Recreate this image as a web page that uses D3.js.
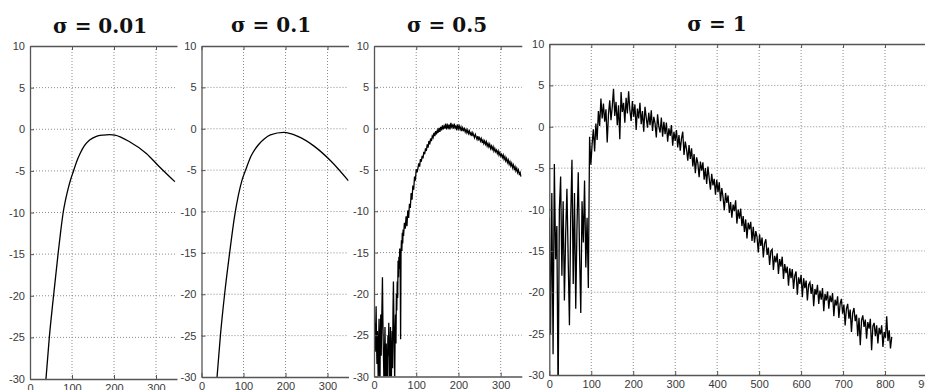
<!DOCTYPE html>
<html>
<head>
<meta charset="utf-8">
<script src="https://cdn.jsdelivr.net/npm/d3@7"></script>
<style>
  body { margin: 0; background: #fff; }
  svg { display: block; }
</style>
</head>
<body>
<svg id="chart" width="925" height="390"></svg>
<script>
// ---- data ----
var titles = ["σ = 0.01", "σ = 0.1", "σ = 0.5", "σ = 1"];
var yTicks = [10, 5, 0, -5, -10, -15, -20, -25, -30];
var xTicksShort = [0, 100, 200, 300];
var xTicksLong = [0, 100, 200, 300, 400, 500, 600, 700, 800, 900];

// sigma = 0.01 (smooth)
var s001X = [35, 38, 46, 55, 67, 73, 79, 85, 91, 97, 103, 111, 119, 130, 142, 158, 174, 190, 202, 237, 277, 308, 345];
var s001Y = [-32, -30, -25, -20.5, -14.9, -12.3, -10, -8.4, -7.1, -6, -5.1, -3.9, -2.95, -1.95, -1.3, -0.85, -0.7, -0.65, -0.7, -1.5, -2.9, -4.5, -6.3];

// sigma = 0.1 (smooth)
var s01X = [34, 37, 45, 55, 67, 79, 88, 96, 105, 118, 136, 150, 164, 196, 228, 268, 308, 350];
var s01Y = [-32, -30, -25, -20, -15, -10.5, -8, -6.3, -5, -3.3, -1.9, -1.2, -0.75, -0.45, -0.9, -2.1, -3.9, -6.3];

// sigma = 0.5: samples 0..69 one by one, then every 2nd sample from 70
var s05HeadY = [
  -22, -25, -23.5, -27, -24, -21.5, -26, -28.5, -24.5, -27, -30.5, -26, -23, -28, -31.5,
  -25.5, -22.5, -27.5, -24, -21, -18, -23, -26.5, -29, -33, -27, -24, -28.5, -31, -26,
  -29.5, -34, -28, -25, -27.5, -23.5, -30, -32.5, -26.5, -24, -28, -31, -27, -24.5, -29,
  -22, -18.5, -23, -27, -30.5, -25, -22.5, -26, -20, -22, -18.5, -20.5, -16, -18, -15.5,
  -17, -14.5, -16.5, -25.5, -15, -13.5, -14.8, -12.6, -13.9, -12.2
];
var s05TailStart = 70, s05TailStep = 2;
var s05TailY = [
  -13.0, -11.4, -12.1, -10.6, -11.8, -9.9, -10.8, -9.1, -9.6, -7.8, -8.6, -6.9, -7.4, -5.8,
  -6.3, -4.9, -5.3, -4.8, -4.2, -4.6, -3.7, -4.0, -3.3, -3.6, -2.8, -3.1, -2.4, -2.7, -1.9,
  -2.3, -1.5, -1.9, -1.2, -1.5, -0.9, -1.1, -0.5, -0.9, -0.3, -0.7, -0.2, -0.5, 0.1, -0.4,
  0.2, -0.2, 0.4, -0.1, 0.3, 0.0, 0.6, -0.1, 0.4, 0.1, 0.5, -0.1, 0.7, 0.2, 0.4, 0.0, 0.6,
  0.1, 0.3, -0.2, 0.5, 0.0, 0.3, -0.1, 0.2, -0.3, 0.1, -0.2, 0.0, -0.4, -0.1, -0.5, -0.2,
  -0.6, -0.3, -0.7, -0.5, -0.9, -0.5, -0.8, -1.1, -0.7, -1.0, -1.3, -0.9, -1.3, -1.1, -1.5,
  -1.2, -1.6, -1.4, -1.8, -1.5, -1.9, -1.6, -2.1, -1.8, -2.2, -1.9, -2.4, -2.1, -2.5, -2.2,
  -2.7, -2.4, -2.8, -2.6, -3.0, -2.7, -3.2, -2.9, -3.3, -3.1, -3.5, -3.2, -3.7, -3.4, -3.9,
  -3.6, -4.1, -3.8, -4.3, -4.0, -4.5, -4.2, -4.7, -4.4, -4.9, -4.6, -5.1, -4.8, -5.3, -5.0,
  -5.5, -5.3, -5.8
];

// sigma = 1: every 3rd sample from 0
var s1Step = 3;
var s1Y = [
  -11, -25, -8, -27.5, -4.5, -16, -12, -33, -10, -6, -18, -9, -21, -13, -7.5, -16,
  -24, -11, -4, -19, -8, -22, -12, -5.5, -15, -22.5, -9, -14, -6.5, -17, -11, -19.5,
  -1.2, -4.6, -2.1, -0.3, -3.0, 0.4, -1.6, 1.9, 0.1, 3.4,
  1.0, 2.8, 0.6, 2.1, -1.9, 1.5, 3.2, 0.8, 2.4, 4.6,
  1.3, 3.0, 0.2, 2.6, -1.5, 4.2, 1.8, 2.9, 0.5, 3.5,
  1.6, 4.3, 2.0, 0.7, 3.1, 1.2, 2.7, -0.4, 2.2, 1.0,
  2.9, 0.3, 1.9, -0.6, 2.4, 1.1, -0.1, 1.7, 0.2, 2.0,
  -0.5, 1.2, 0.4, -1.3, 1.5, 0.0, -0.7, 1.1, -1.2, 0.6,
  -0.9, 0.5, -1.8, -0.2, -1.1, 0.2, -2.3, -0.6, -1.7, -0.4,
  -2.5, -1.0, -2.9, -1.4, -0.6, -3.4, -1.8, -2.7, -4.1, -2.2,
  -3.9, -2.6, -4.8, -3.3, -5.6, -3.7, -4.4, -6.1, -4.2, -5.3,
  -4.3, -6.4, -5.0, -6.9, -4.8, -6.2, -7.6, -5.7, -7.1, -6.3,
  -8.2, -6.4, -7.9, -6.7, -9.0, -7.4, -8.5, -10.1, -8.0, -9.2,
  -8.3, -10.4, -9.1, -11.0, -9.4, -10.2, -8.9, -11.7, -10.0, -11.1,
  -9.9, -12.0, -10.8, -12.7, -11.2, -13.5, -11.6, -12.4, -11.5, -13.8,
  -12.1, -14.0, -12.6, -13.3, -15.2, -13.0, -14.4, -13.4, -15.8, -14.1,
  -13.6, -15.5, -14.6, -16.7, -15.0, -14.8, -17.3, -15.6, -16.4, -15.3,
  -17.8, -16.0, -16.9, -15.7, -18.4, -16.6, -17.7, -16.9, -19.2, -17.1,
  -18.3, -17.2, -19.6, -18.0, -17.5, -20.3, -18.2, -19.0, -17.9, -20.6,
  -18.3, -19.5, -18.6, -21.0, -19.1, -18.8, -20.2, -19.0, -21.7, -19.6,
  -20.3, -19.1, -21.4, -19.8, -20.9, -19.5, -22.3, -20.2, -21.0, -19.9,
  -22.0, -20.4, -21.2, -20.1, -22.9, -20.9, -21.6, -20.5, -23.1, -21.4,
  -20.8, -22.6, -21.5, -24.0, -22.0, -21.4, -23.2, -22.1, -24.8, -22.5,
  -21.9, -23.5, -22.7, -25.3, -23.1, -26.4, -23.4, -22.8, -24.2, -23.3,
  -25.6, -23.6, -24.4, -23.2, -27.0, -24.1, -23.7, -25.3, -24.0, -26.2,
  -24.3, -25.1, -24.0, -26.6, -24.8, -25.5, -22.9, -25.9, -24.6, -26.8, -25.4
];

function pairs(xs, ys) { return xs.map(function (x, i) { return [x, ys[i]]; }); }
function stepped(start, step, ys) { return ys.map(function (y, i) { return [start + i * step, y]; }); }

// ---- layout ----
var panels = [
  { left: 30,    right: 177,   top: 46, bottom: 379,   xMax: 350, ticks: xTicksShort, data: pairs(s001X, s001Y), smooth: true,  tx: 100, ty: 33 },
  { left: 201.5, right: 348.5, top: 46, bottom: 377,   xMax: 350, ticks: xTicksShort, data: pairs(s01X, s01Y),   smooth: true,  tx: 271, ty: 32 },
  { left: 374,   right: 521.8, top: 46, bottom: 376.5, xMax: 350, ticks: xTicksShort,
    data: stepped(0, 1, s05HeadY).concat(stepped(s05TailStart, s05TailStep, s05TailY)), smooth: false, tx: 447, ty: 32 },
  { left: 549.3, right: 927,   top: 44, bottom: 375,   xMax: 900, ticks: xTicksLong,  data: stepped(0, s1Step, s1Y), smooth: false, tx: 717, ty: 31 }
];

var svg = d3.select("#chart");
var axisColor = "#555";

panels.forEach(function (p, k) {
  var x = d3.scaleLinear().domain([0, p.xMax]).range([p.left, p.right]);
  var y = d3.scaleLinear().domain([-30, 10]).range([p.bottom, p.top]);
  var g = svg.append("g");

  g.append("clipPath").attr("id", "clip" + k)
    .append("rect")
    .attr("x", p.left).attr("y", p.top)
    .attr("width", p.right - p.left).attr("height", p.bottom - p.top);

  // grid
  g.append("g").selectAll("line")
    .data(p.ticks.filter(function (t) { return t > 0 && x(t) < p.right - 1; }))
    .enter().append("line")
    .attr("x1", function (d) { return x(d); }).attr("x2", function (d) { return x(d); })
    .attr("y1", p.top).attr("y2", p.bottom)
    .attr("stroke", "#8c8c8c").attr("stroke-width", 1).attr("stroke-dasharray", "1,2");

  g.append("g").selectAll("line")
    .data(yTicks.filter(function (t) { return t > -30 && t < 10; }))
    .enter().append("line")
    .attr("x1", p.left).attr("x2", p.right)
    .attr("y1", function (d) { return y(d); }).attr("y2", function (d) { return y(d); })
    .attr("stroke", "#8c8c8c").attr("stroke-width", 1).attr("stroke-dasharray", "1,2");

  // data line
  var line = d3.line()
    .x(function (d) { return x(d[0]); })
    .y(function (d) { return y(d[1]); });
  if (p.smooth) line.curve(d3.curveMonotoneX);

  g.append("path")
    .datum(p.data)
    .attr("clip-path", "url(#clip" + k + ")")
    .attr("fill", "none")
    .attr("stroke", "#000")
    .attr("stroke-width", p.smooth ? 1.3 : 1.3)
    .attr("d", line);

  // axes (inward ticks, MATLAB style)
  var fmt = function (d) { return String(d); };
  var left = d3.axisLeft(y).tickValues(yTicks).tickFormat(fmt).tickSizeInner(-4).tickSizeOuter(0).tickPadding(5);
  var bottom = d3.axisBottom(x).tickValues(p.ticks).tickFormat(fmt).tickSizeInner(-4).tickSizeOuter(0).tickPadding(5);
  var top = d3.axisTop(x).tickValues(p.ticks).tickSizeInner(-4).tickSizeOuter(0).tickFormat("");

  [g.append("g").attr("transform", "translate(" + p.left + ",0)").call(left),
   g.append("g").attr("transform", "translate(0," + p.bottom + ")").call(bottom),
   g.append("g").attr("transform", "translate(0," + p.top + ")").call(top)]
    .forEach(function (a) {
      a.select(".domain").attr("stroke", axisColor).attr("stroke-width", 1.3);
      a.selectAll(".tick line").attr("stroke", axisColor);
      a.selectAll("text")
        .attr("fill", "#3a3a3a")
        .style("font-family", "'Liberation Sans', Arial, sans-serif")
        .style("font-size", "11px");
    });

  // title
  svg.append("text")
    .attr("x", p.tx).attr("y", p.ty)
    .attr("text-anchor", "middle")
    .style("font-family", "'DejaVu Serif', serif")
    .style("font-weight", "bold")
    .style("font-size", "20px")
    .attr("fill", "#111")
    .text(titles[k]);
});
</script>
</body>
</html>
